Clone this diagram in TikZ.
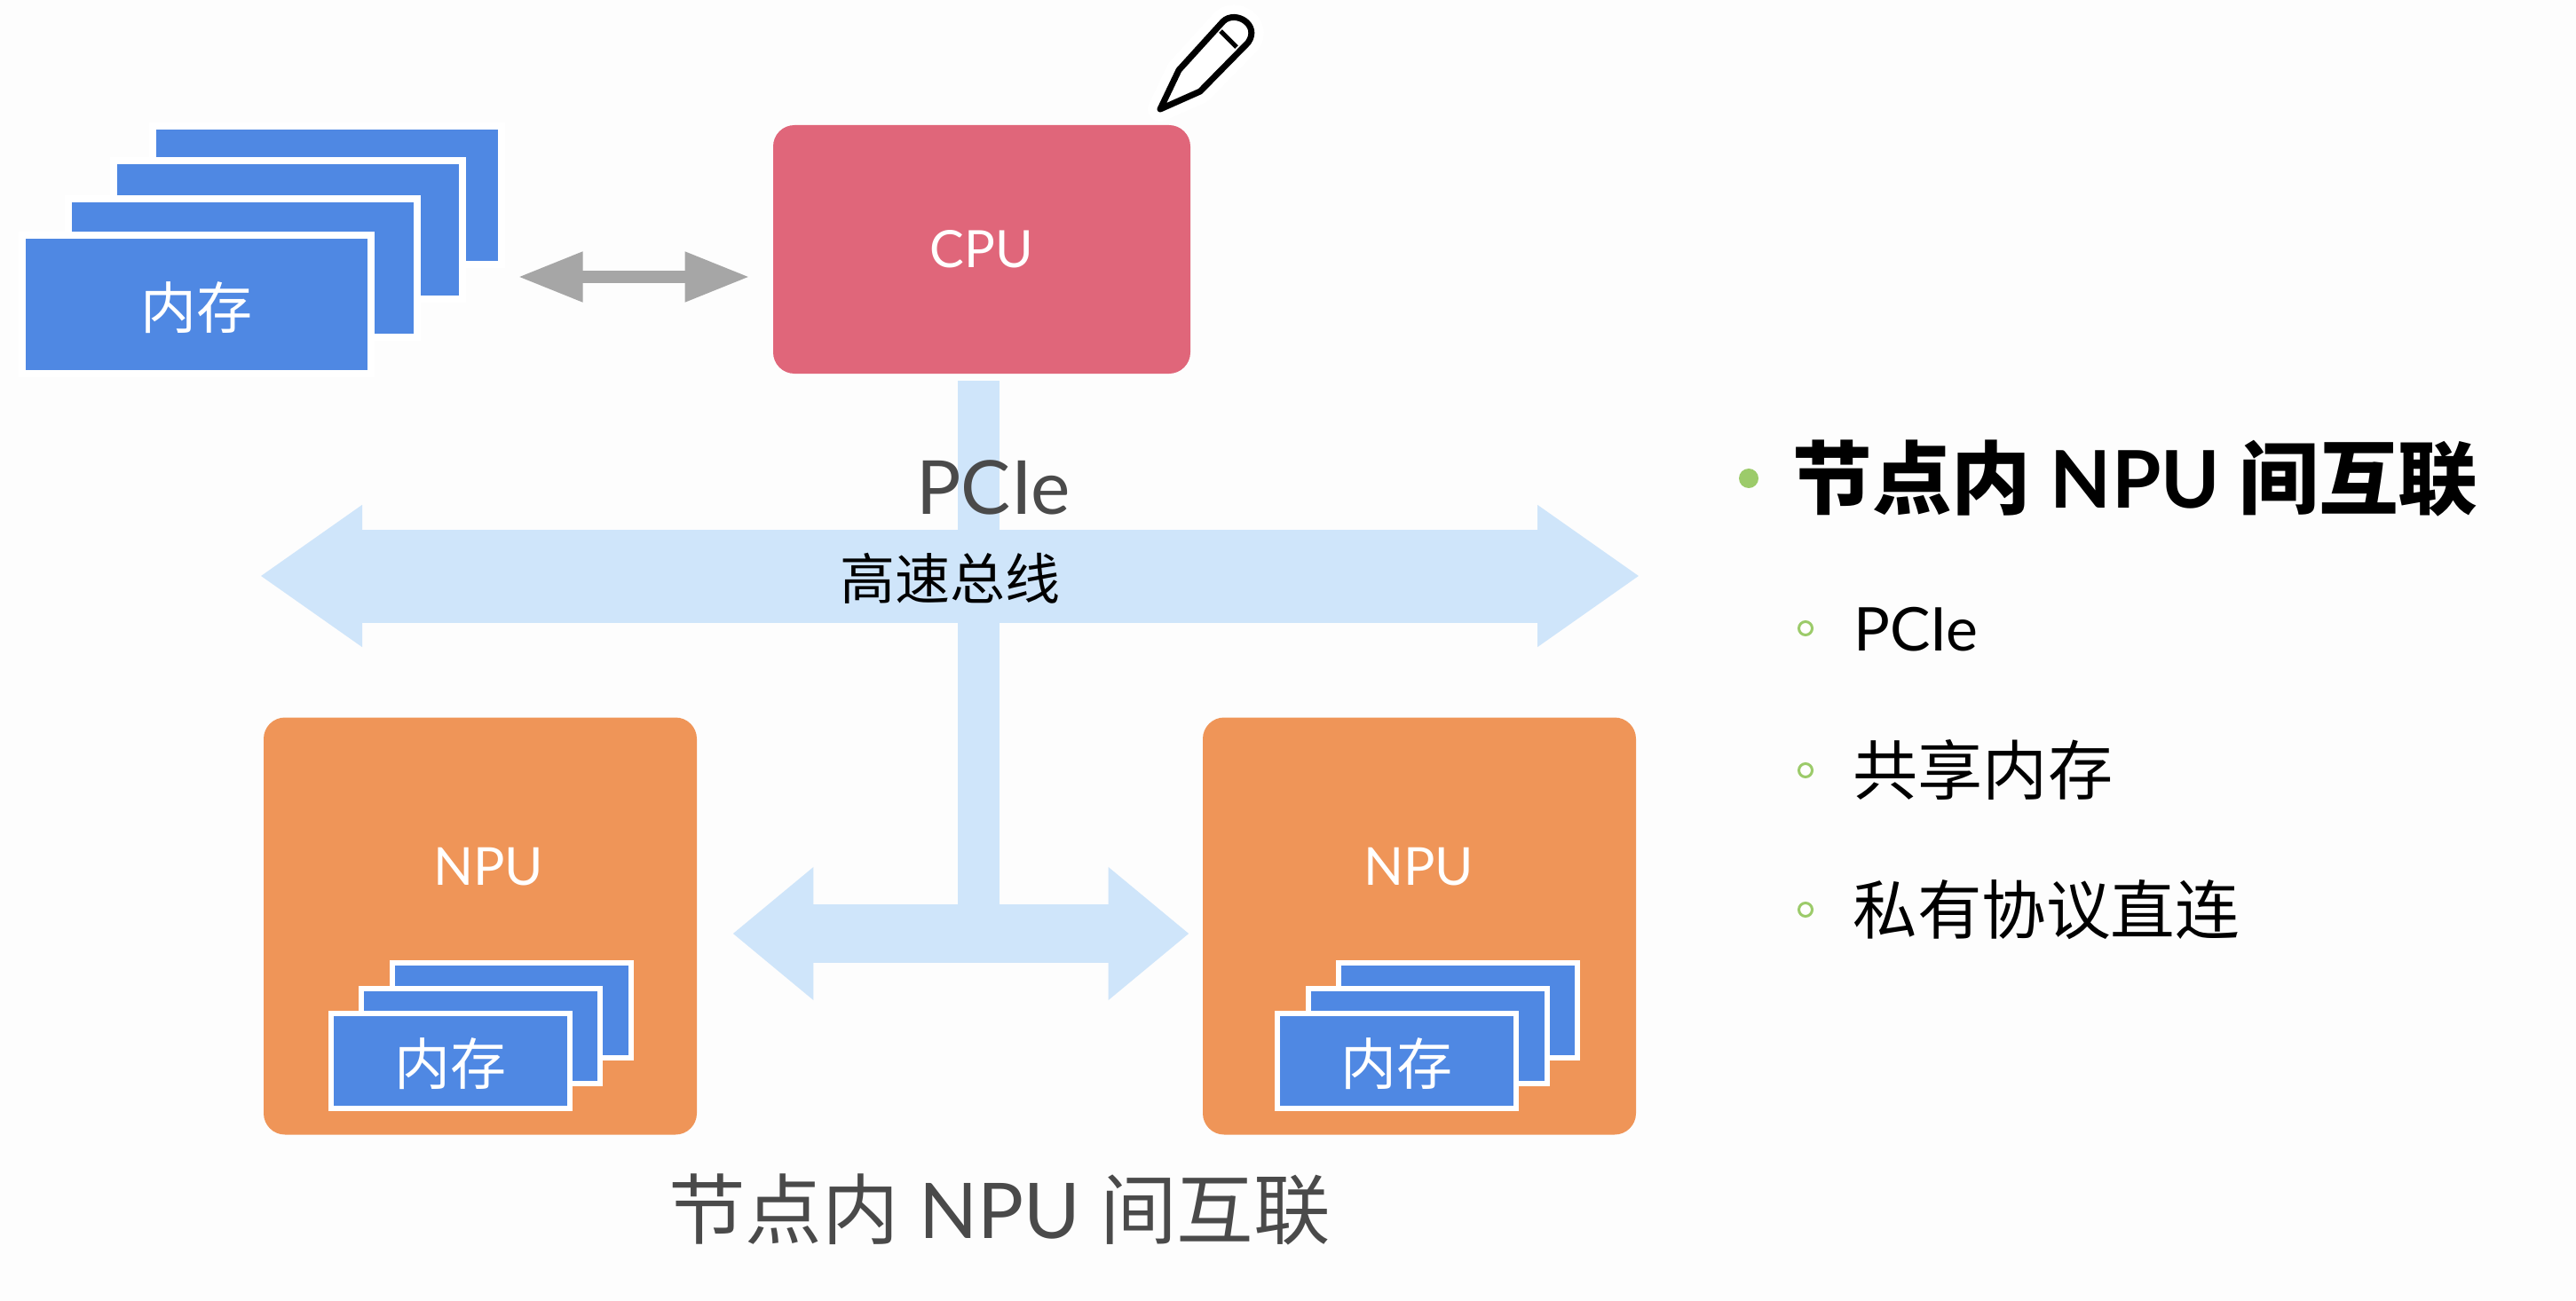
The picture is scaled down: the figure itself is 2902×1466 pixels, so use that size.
\documentclass[tikz,border=0pt]{standalone}
\usepackage{fontspec}
\setmainfont{Lato}
\newfontfamily\cjk{Noto Sans CJK SC}
\usetikzlibrary{arrows.meta}
\definecolor{pagebg}{HTML}{FDFDFD}
\definecolor{cardblue}{HTML}{4F88E3}
\definecolor{cpured}{HTML}{E0667A}
\definecolor{npuorange}{HTML}{EF9558}
\definecolor{buslight}{HTML}{CFE5FA}
\definecolor{linkgray}{HTML}{A6A6A6}
\definecolor{labelgray}{HTML}{4A4A4A}
\definecolor{bulletgreen}{HTML}{9CCB6A}
\tikzset{
	bigcard/.style={draw=white, line width=4pt, fill=cardblue, minimum width=196.5pt, minimum height=78pt, inner sep=0pt},
	smallcard/.style={draw=white, line width=3pt, fill=cardblue, minimum width=134.5pt, minimum height=53.5pt, inner sep=0pt},
	cardlabel/.style={inner sep=0pt, text=white, font=\fontsize{31.5}{31.5}\selectfont\cjk},
	cpubox/.style={fill=cpured, rounded corners=12pt, minimum width=235pt, minimum height=140pt, inner sep=0pt, text=white, font=\fontsize{29}{29}\selectfont},
	npubox/.style={fill=npuorange, rounded corners=12pt, minimum width=244pt, minimum height=235pt, inner sep=0pt},
	npulabel/.style={inner sep=0pt, text=white, font=\fontsize{29.5}{29.5}\selectfont},
	graylink/.style={draw=linkgray, line width=7pt, {Triangle[length=36.5pt,width=26.5pt]}-{Triangle[length=36.5pt,width=26.5pt]}},
	busarrow/.style={draw=buslight, line width=52.5pt, {Triangle[length=57.5pt,width=76pt]}-{Triangle[length=57.5pt,width=76pt]}},
	linkarrow/.style={draw=buslight, line width=33pt, {Triangle[length=45.5pt,width=72pt]}-{Triangle[length=45.5pt,width=72pt]}},
	pciebar/.style={draw=buslight, line width=23.5pt},
	bigbullet/.style={circle, fill=bulletgreen, minimum size=11pt, inner sep=0pt},
	smallbullet/.style={circle, draw=bulletgreen, line width=1.5pt, fill=white, minimum size=7.5pt, inner sep=0pt},
	sidetext/.style={anchor=west, inner sep=0pt, text=black, font=\fontsize{36.3}{36.3}\selectfont}
}
\begin{document}
\begin{tikzpicture}[x=0.5pt, y=-0.5pt]
	\fill[pagebg] (0, 0) rectangle (2902, 1466);
	\useasboundingbox (0, 0) rectangle (2902, 1466);
	\node[bigcard] (mem4) at (368, 220) {};
	\node[bigcard] (mem3) at (324, 259) {};
	\node[bigcard] (mem2) at (273.5, 302) {};
	\node[bigcard] (mem1) at (221.5, 343) {};
	\node[cardlabel] (mem1text) at (221.5, 347) {内存};
	\node[cpubox] (cpu) at (1106, 281) {CPU};
	\node[npubox] (npuL) at (541, 1043.5) {};
	\node[npubox] (npuR) at (1599, 1043.5) {};
	\node[npulabel] (npuLtext) at (550, 977) {NPU};
	\node[npulabel] (npuRtext) at (1598, 977) {NPU};
	\node[smallcard] (cardL3) at (576, 1138) {};
	\node[smallcard] (cardL2) at (541.5, 1167.5) {};
	\node[smallcard] (cardL1) at (507, 1195) {};
	\node[cardlabel] (cardL1text) at (507, 1199) {内存};
	\node[smallcard] (cardR3) at (1642.5, 1138) {};
	\node[smallcard] (cardR2) at (1608.5, 1167.5) {};
	\node[smallcard] (cardR1) at (1573, 1195) {};
	\node[cardlabel] (cardR1text) at (1573, 1199) {内存};
	\coordinate (grayy) at (0, 312);
	\coordinate (busW) at (293, 649);
	\coordinate (busE) at (1847, 649);
	\coordinate (barx) at (1102, 0);
	\coordinate (linky) at (0, 1052);
	\draw[graylink, shorten <=7.5pt, shorten >=13pt] (mem4.east |- grayy) -- (cpu.west |- grayy);
	\draw[busarrow] (busW) -- (busE);
	\draw[pciebar, shorten <=4pt] (barx |- cpu.south) -- (barx |- linky);
	\draw[linkarrow, shorten <=20pt, shorten >=7.5pt] (npuL.east |- linky) -- (npuR.west |- linky);
	\node[inner sep=0pt, text=labelgray, font=\fontsize{42}{42}\selectfont] (pcie) at (1119, 549) {PCIe};
	\node[inner sep=0pt, text=black, font=\fontsize{31}{31}\selectfont\cjk] (bustext) at (1070, 652) {高速总线};
	\node[inner sep=0pt, text=labelgray, font=\fontsize{43.3}{43.3}\selectfont] (caption) at (1126, 1363) {{\cjk 节点内} NPU {\cjk 间互联}};
	\node[bigbullet] (dot0) at (1970, 539) {};
	\node[anchor=west, inner sep=0pt, text=black, font=\fontsize{44.8}{44.8}\selectfont\bfseries] (head) at (2019, 539) {{\cjk 节点内} NPU {\cjk 间互联}};
	\node[smallbullet] (dot1) at (2034, 708) {};
	\node[sidetext, font=\fontsize{34}{34}\selectfont] (item1) at (2088, 709) {PCIe};
	\node[smallbullet] (dot2) at (2034, 868) {};
	\node[sidetext, font=\fontsize{36.6}{36.6}\selectfont] (item2) at (2087, 867) {\cjk 共享内存};
	\node[smallbullet] (dot3) at (2034, 1025) {};
	\node[sidetext] (item3) at (2087, 1025) {\cjk 私有协议直连};
	\draw[white, line width=14pt, line join=round] (1307, 123) -- (1328, 79) -- (1378, 24) .. controls (1392, 11) and (1420, 28) .. (1406, 48) -- (1352, 103) -- cycle;
	\draw[black, line width=3.5pt, line join=round, fill=white] (1307, 123) -- (1328, 79) -- (1378, 24) .. controls (1392, 11) and (1420, 28) .. (1406, 48) -- (1352, 103) -- cycle;
	\draw[black, line width=2.5pt] (1375, 35) -- (1393, 53);
\end{tikzpicture}
\end{document}
